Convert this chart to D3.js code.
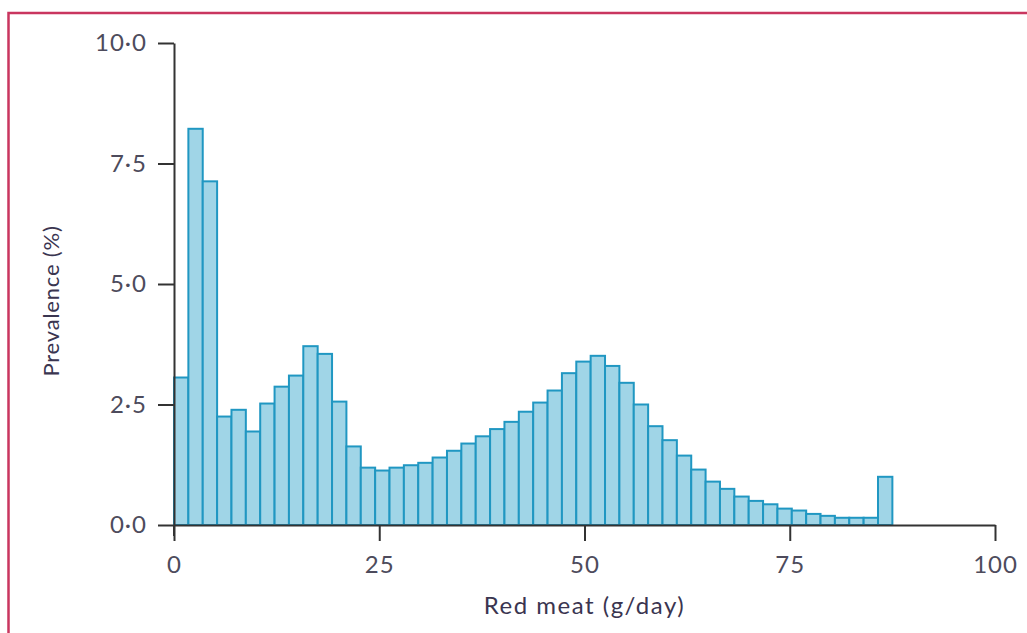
<!DOCTYPE html>
<html>
<head>
<meta charset="utf-8">
<script src="https://cdn.jsdelivr.net/npm/d3@7"></script>
<style>
  html, body { margin: 0; padding: 0; background: #fff; }
  svg { display: block; font-family: Lato, "Open Sans", sans-serif; }
</style>
</head>
<body>
<div id="chart"></div>
<script>
// histogram of red meat intake, bins of equal width starting at 0
const binWidth = 1.75;
const prevalence = [
  3.06, 8.22, 7.13, 2.25, 2.39, 1.94, 2.52, 2.87, 3.10, 3.71,
  3.55, 2.56, 1.63, 1.19, 1.13, 1.19, 1.24, 1.29, 1.40, 1.54,
  1.69, 1.84, 1.99, 2.14, 2.35, 2.54, 2.79, 3.15, 3.39, 3.51,
  3.30, 2.95, 2.50, 2.05, 1.76, 1.44, 1.15, 0.90, 0.75, 0.59,
  0.50, 0.43, 0.34, 0.30, 0.23, 0.19, 0.15, 0.15, 0.15, 1.00
];
const xTicks = [0, 25, 50, 75, 100];
const yTicks = [0, 2.5, 5, 7.5, 10];

const width = 1027, height = 633;
const margin = { top: 43, right: 32, bottom: 108, left: 174 };

const svg = d3.select('#chart').append('svg')
  .attr('width', width)
  .attr('height', height);

// frame
svg.append('rect')
  .attr('x', 8.5).attr('y', 13)
  .attr('width', width + 20).attr('height', height + 20)
  .attr('fill', 'none')
  .attr('stroke', '#c9365f')
  .attr('stroke-width', 2.5);

const x = d3.scaleLinear().domain([0, 100]).range([margin.left, width - margin.right]);
const y = d3.scaleLinear().domain([0, 10]).range([height - margin.bottom, margin.top]);

const bins = prevalence.map((v, i) => ({ x0: i * binWidth, x1: (i + 1) * binWidth, v }));

// BARS
svg.append('g')
  .selectAll('rect')
  .data(bins)
  .join('rect')
  .attr('x', d => x(d.x0))
  .attr('y', d => y(d.v))
  .attr('width', d => x(d.x1) - x(d.x0))
  .attr('height', d => y(0) - y(d.v))
  .attr('fill', '#a0d5e7')
  .attr('stroke', '#2097c2')
  .attr('stroke-width', 2);

// AXES
const axisColor = '#333';
const labelColor = '#4d4b5c';

const gx = svg.append('g')
  .attr('transform', `translate(0,${y(0)})`)
  .call(d3.axisBottom(x).tickValues(xTicks).tickSize(16).tickPadding(15).tickSizeOuter(0));

const gy = svg.append('g')
  .attr('transform', `translate(${margin.left},0)`)
  .call(d3.axisLeft(y).tickValues(yTicks).tickSize(16).tickPadding(11).tickSizeOuter(0)
    .tickFormat(d => d3.format('.1f')(d).replace('.', '\u00b7')));

[gx, gy].forEach(g => {
  g.select('.domain').attr('stroke', axisColor).attr('stroke-width', 2);
  g.selectAll('.tick line').attr('stroke', axisColor).attr('stroke-width', 2);
  g.selectAll('.tick text')
    .attr('fill', labelColor)
    .style('font-size', '24px')
    .style('letter-spacing', '1px')
    .style('font-family', 'Lato, "Open Sans", sans-serif');
});

// y axis line runs a little below the x axis
svg.append('line')
  .attr('x1', margin.left).attr('x2', margin.left)
  .attr('y1', y(0)).attr('y2', y(0) + 11)
  .attr('stroke', axisColor).attr('stroke-width', 2);

// TITLES
svg.append('text')
  .attr('x', x(50)).attr('y', 614)
  .attr('text-anchor', 'middle')
  .attr('fill', '#3a3550')
  .style('font-size', '24px')
  .style('letter-spacing', '1.5px')
  .text('Red meat (g/day)');

svg.append('text')
  .attr('transform', `translate(59,${(y(0) + y(10)) / 2 + 17}) rotate(-90)`)
  .attr('text-anchor', 'middle')
  .attr('fill', '#3a3550')
  .style('font-size', '22px')
  .style('letter-spacing', '0.8px')
  .text('Prevalence (%)');
</script>
</body>
</html>
